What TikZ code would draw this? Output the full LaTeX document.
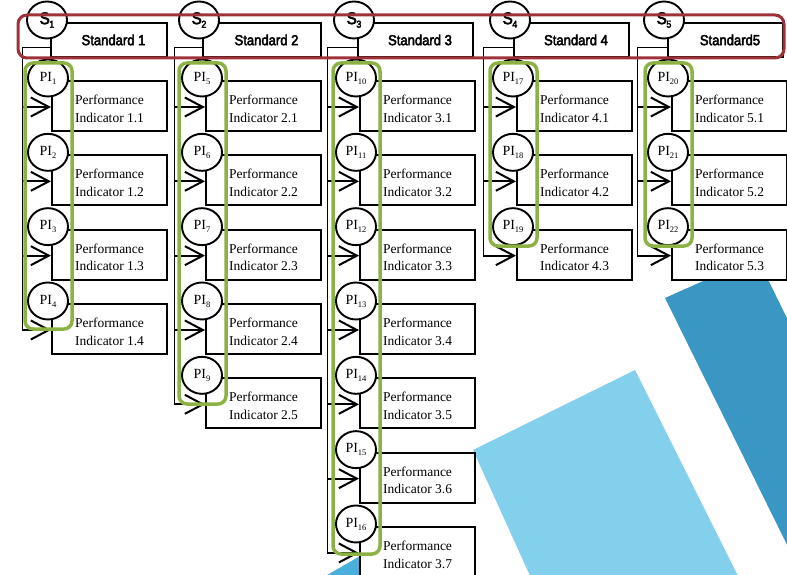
\documentclass[tikz,border=0pt]{standalone}
\usepackage{fontspec}
\setmainfont{Liberation Serif}
\newfontfamily\stdfont[FakeStretch=0.9,FakeBold=3]{Liberation Sans}
\usetikzlibrary{arrows.meta,shapes.geometric}

\definecolor{frameRed}{RGB}{158,50,56}
\definecolor{groupGreen}{RGB}{140,178,70}
\definecolor{blueDark}{RGB}{58,150,194}
\definecolor{blueLight}{RGB}{130,208,236}
\definecolor{blueMid}{RGB}{72,176,218}

\tikzset{
  pibox/.style={draw, line width=2pt, fill=white, anchor=north west,
    minimum width=115pt, minimum height=50pt, inner sep=0pt, align=left,
    font=\fontsize{13.5}{17.5}\selectfont},
  stdbox/.style={draw, line width=2pt, fill=white, anchor=north west,
    minimum width=116pt, minimum height=34pt, inner sep=0pt,
    font=\stdfont\fontsize{14.5}{15}\selectfont},
  badge/.style={ellipse, draw, line width=1.9pt, fill=white,
    minimum width=40pt, minimum height=37pt, inner sep=0pt},
  feed/.style={line width=0.9pt},
  pointer/.style={line width=2pt, line join=miter,
    -{Straight Barb[length=18pt,width=19pt,line width=2pt]}},
  group/.style={draw=groupGreen, line width=3.5pt, rounded corners=8pt},
  header/.style={draw=frameRed, line width=3pt, rounded corners=9pt},
}

\newcommand\slabel[1]{{\stdfont\fontsize{17}{17}\selectfont S\kern-0.5pt\raisebox{-3.5pt}{\fontsize{10}{10}\selectfont #1}}}
\newcommand\pilabel[1]{{\fontsize{14}{14}\selectfont PI\raisebox{-3pt}{\fontsize{8.5}{8.5}\selectfont #1}}}

\begin{document}
\begin{tikzpicture}[x=1pt,y=-1pt]
\useasboundingbox (0,0) rectangle (787,575);
\clip (0,0) rectangle (787,575);

% background panels
\fill[blueDark] (665,298) -- (757,257) -- (1000,753) -- (890,753) -- cycle;
\fill[blueLight] (473,450) -- (635,370) -- (750,600) -- (541,600) -- cycle;
\fill[blueMid] (322,578) -- (400,533) -- (430,578) -- cycle;

% standards
\node[stdbox] (std1) at (50,22)  {\hspace*{9pt}Standard 1};
\node[stdbox, minimum width=118pt] (std2) at (202,22) {\hspace*{9pt}Standard 2};
\node[stdbox, minimum width=115pt] (std3) at (357,22) {\hspace*{9pt}Standard 3};
\node[stdbox, minimum width=115pt] (std4) at (513,22) {\hspace*{9pt}Standard 4};
\node[stdbox, minimum width=115pt] (std5) at (667,22) {\hspace*{9pt}Standard5};

% performance indicators per standard
\foreach \c/\bx/\fx/\n/\first in {1/51/22/4/1, 2/205/174/5/5, 3/359/327/7/10, 4/516/483/3/17, 5/671/637/3/20}{
  \foreach \r in {1,...,\n}{
    \pgfmathsetmacro\ty{80+74.33*(\r-1)}
    \pgfmathtruncatemacro\idx{\first+\r-1}
    \node[pibox] (box\c-\r) at (\bx,\ty) {\rule{0pt}{15pt}Performance\\Indicator \c.\r};
    \node[badge] (pi\c-\r) at (\bx-3,\ty-2) {\pilabel{\idx}};
    \coordinate (in\c-\r) at (\fx,\ty+27);
    \draw[pointer] (in\c-\r) -- (in\c-\r -| box\c-\r.west);
  }
  \coordinate (tap\c) at (\fx,47);
  \draw[feed] (std\c.west |- tap\c) -- (tap\c) -- (in\c-\n);
  \node[badge] (s\c) at ([xshift=-3pt,yshift=2pt]std\c.north west) {\slabel{\c}};
}

% indicator groups
\foreach \bx/\gb in {51/329, 205/404, 359/554, 516/246, 671/246}{
  \draw[group] (\bx-26,63) rectangle (\bx+21,\gb);
}

% standards frame
\draw[header] (18,15) rectangle (784,58);
\end{tikzpicture}
\end{document}
